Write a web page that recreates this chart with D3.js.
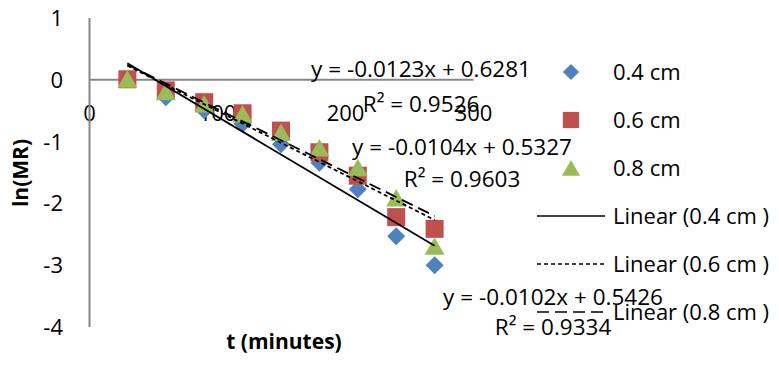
<!DOCTYPE html>
<html>
<head>
<meta charset="utf-8">
<script src="https://cdn.jsdelivr.net/npm/d3@7"></script>
<style>
  body { margin: 0; background: #fff; }
  svg text { font-family: "Open Sans", "Noto Sans", sans-serif; fill: #000; }
</style>
</head>
<body>
<div id="chartArea"></div>
<script>
const width = 779;
const height = 365;

// minutes
const times = [30, 60, 90, 120, 150, 180, 210, 240, 270];
// ln(MR) per slice thickness
const series04 = [0, -0.29, -0.50, -0.72, -1.05, -1.35, -1.78, -2.54, -3.01];
const series06 = [0, -0.18, -0.37, -0.55, -0.83, -1.18, -1.56, -2.23, -2.42];
const series08 = [0, -0.20, -0.40, -0.56, -0.86, -1.11, -1.43, -1.92, -2.70];
const seriesNames = ["0.4 cm", "0.6 cm", "0.8 cm"];
// trendline fits, as printed on the chart
const slopes = [-0.0123, -0.0104, -0.0102];
const intercepts = [0.6281, 0.5327, 0.5426];
const rSquared = ["0.9526", "0.9603", "0.9334"];
const xTicks = [0, 100, 200, 300];
const yTicks = [1, 0, -1, -2, -3, -4];

const colors = ["#4F81BD", "#C0504D", "#9BBB59"];
const shapes = ["diamond", "square", "triangle"];
const dashes = [null, "4,3", "12,6"];

const x = d3.scaleLinear().domain([0, 300]).range([89, 473]);
const y = d3.scaleLinear().domain([-4, 1]).range([326.5, 17.5]);

function markerPath(shape) {
    if (shape === "diamond") return "M0,-9L9,0L0,9L-9,0Z";
    if (shape === "square") return "M-9,-9H9V9H-9Z";
    return "M0,-9L10,8.5L-10,8.5Z";
}

function fmtEq(m, b) {
    return "y = " + m.toFixed(4) + "x + " + b.toFixed(4);
}

function draw() {
    const svg = d3.select("#chartArea")
        .append("svg")
        .attr("width", width)
        .attr("height", height);

    // axes (plain hyphen minus like the original)
    const plain = d => String(d);
    const xAxis = svg.append("g")
        .attr("transform", `translate(0,${y(0)})`)
        .call(d3.axisBottom(x).tickValues(xTicks).tickFormat(plain)
            .tickSize(0).tickSizeOuter(0).tickPadding(26));
    const yAxis = svg.append("g")
        .attr("transform", `translate(${x(0)},0)`)
        .call(d3.axisLeft(y).tickValues(yTicks).tickFormat(plain)
            .tickSize(0).tickSizeOuter(0).tickPadding(26));

    [xAxis, yAxis].forEach(a => {
        a.select(".domain").attr("stroke", "#868686").attr("stroke-width", 2);
        a.selectAll("text")
            .style("font-family", "'Open Sans', sans-serif")
            .style("font-size", "22px")
            .attr("fill", "#000");
    });
    xAxis.selectAll("text").attr("dy", "0.72em");
    yAxis.selectAll("text").attr("dy", "0.36em");

    // axis titles
    svg.append("text")
        .attr("x", 284)
        .attr("y", 349)
        .attr("text-anchor", "middle")
        .style("font-size", "21px")
        .style("font-weight", "bold")
        .text("t (minutes)");
    svg.append("text")
        .attr("transform", "translate(28,173) rotate(-90)")
        .attr("text-anchor", "middle")
        .style("font-size", "21px")
        .style("font-weight", "bold")
        .text("ln(MR)");

    const allSeries = [series04, series06, series08];

    // markers
    allSeries.forEach((vals, i) => {
        svg.append("g")
            .selectAll("path")
            .data(vals)
            .enter().append("path")
            .attr("d", markerPath(shapes[i]))
            .attr("transform", (d, j) => `translate(${x(times[j])},${y(d)})`)
            .attr("fill", colors[i]);
    });

    // trendlines
    const t0 = d3.min(times), t1 = d3.max(times);
    slopes.forEach((m, i) => {
        svg.append("line")
            .attr("x1", x(t0))
            .attr("y1", y(m * t0 + intercepts[i]))
            .attr("x2", x(t1))
            .attr("y2", y(m * t1 + intercepts[i]))
            .attr("stroke", "#000")
            .attr("stroke-width", 1.8)
            .attr("stroke-dasharray", dashes[i]);
    });

    // equation labels
    const eqPos = [[421, 77, 112], [462, 155, 187], [553, 305, 335]];
    slopes.forEach((m, i) => {
        const g = svg.append("g").style("font-size", "22.5px").attr("text-anchor", "middle");
        g.append("text").attr("x", eqPos[i][0]).attr("y", eqPos[i][1]).text(fmtEq(m, intercepts[i]));
        g.append("text").attr("x", eqPos[i][0]).attr("y", eqPos[i][2]).text("R\u00B2 = " + rSquared[i]);
    });

    // legend
    const legend = svg.append("g").style("font-size", "22px");
    const rowY = d => 72 + d * 48;
    seriesNames.forEach((name, i) => {
        legend.append("path")
            .attr("d", markerPath(shapes[i]))
            .attr("transform", `translate(571,${rowY(i)}) scale(0.9)`)
            .attr("fill", colors[i]);
        legend.append("text")
            .attr("x", 613)
            .attr("y", rowY(i))
            .attr("dy", "0.36em")
            .text(name);
    });
    seriesNames.forEach((name, i) => {
        const ry = rowY(i + 3);
        legend.append("line")
            .attr("x1", 537).attr("x2", 605)
            .attr("y1", ry).attr("y2", ry)
            .attr("stroke", "#000")
            .attr("stroke-width", 1.5)
            .attr("stroke-dasharray", dashes[i]);
        legend.append("text")
            .attr("x", 613)
            .attr("y", ry)
            .attr("dy", "0.36em")
            .text("Linear (" + name + " )");
    });
}

draw();
</script>
</body>
</html>
